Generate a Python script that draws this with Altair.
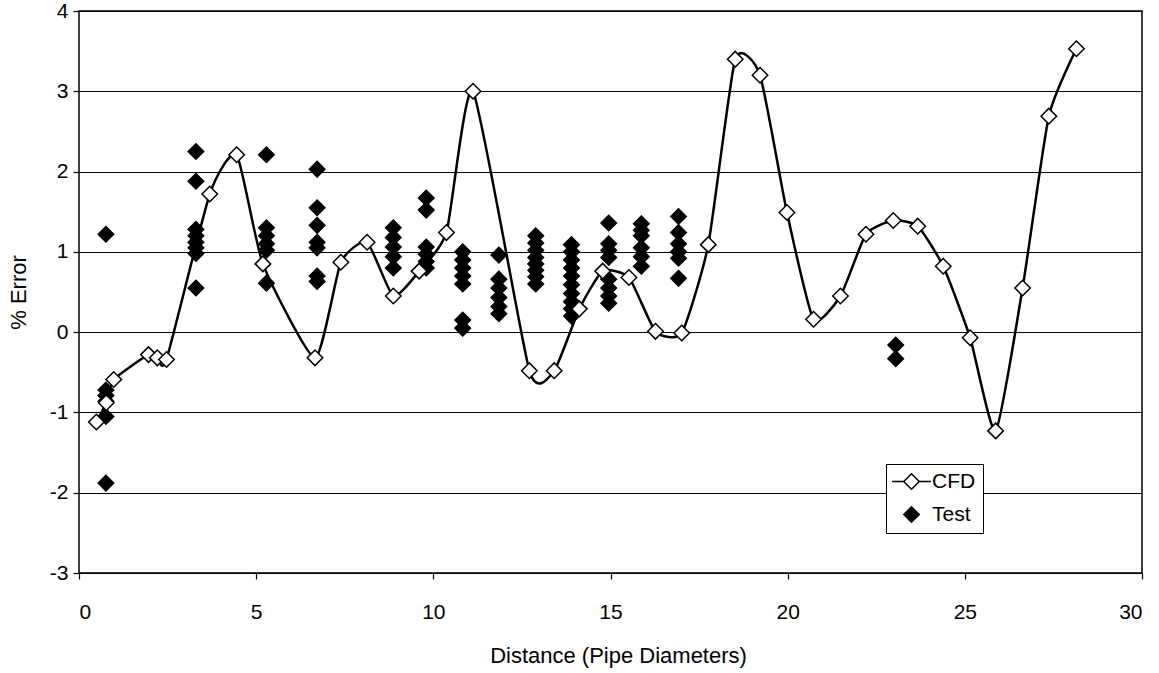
import altair as alt
import pandas as pd

# CFD prediction along the pipe (distance in pipe diameters, % error)
cfd_x = [0.49, 0.77, 0.98, 1.96, 2.21, 2.47, 3.69, 4.45, 5.19, 6.66, 7.39, 8.13,
         8.87, 9.60, 10.37, 11.12, 12.71, 13.41, 14.12, 14.78, 15.52, 16.27,
         17.01, 17.76, 18.52, 19.22, 19.98, 20.73, 21.49, 22.21, 22.98, 23.67,
         24.39, 25.15, 25.87, 26.63, 27.37, 28.15]
cfd_y = [-1.12, -0.88, -0.59, -0.28, -0.32, -0.34, 1.72, 2.21, 0.85, -0.32, 0.87, 1.12,
         0.45, 0.76, 1.24, 3.00, -0.48, -0.48, 0.29, 0.76, 0.68, 0.01,
         -0.01, 1.09, 3.40, 3.20, 1.49, 0.16, 0.45, 1.22, 1.39, 1.32,
         0.82, -0.07, -1.23, 0.55, 2.69, 3.53]

# Test measurements, grouped by measuring station
test_stations = [0.76, 3.30, 5.29, 6.72, 8.87, 9.80, 10.83, 11.85, 12.89, 13.90,
                 14.95, 15.87, 16.92, 23.05]
test_values = [
    [1.22, -0.72, -0.79, -0.86, -1.05, -1.88],
    [2.25, 1.88, 1.28, 1.20, 1.12, 1.05, 0.98, 0.55],
    [2.21, 1.30, 1.20, 1.10, 1.02, 0.61],
    [2.03, 1.55, 1.33, 1.12, 1.05, 0.70, 0.63],
    [1.30, 1.18, 1.06, 0.94, 0.80],
    [1.67, 1.52, 1.06, 0.97, 0.88, 0.80],
    [1.00, 0.90, 0.80, 0.70, 0.60, 0.15, 0.05],
    [0.96, 0.66, 0.55, 0.43, 0.32, 0.23],
    [1.20, 1.11, 1.02, 0.93, 0.85, 0.77, 0.69, 0.60],
    [1.09, 1.00, 0.90, 0.80, 0.70, 0.59, 0.48, 0.38, 0.29, 0.20],
    [1.36, 1.10, 1.02, 0.93, 0.66, 0.55, 0.45, 0.36],
    [1.35, 1.27, 1.20, 1.05, 0.94, 0.82],
    [1.44, 1.24, 1.10, 1.00, 0.92, 0.67],
    [-0.16, -0.33],
]

series_names = ["CFD", "Test"]
x_ticks = [0, 5, 10, 15, 20, 25, 30]
y_ticks = [-3, -2, -1, 0, 1, 2, 3, 4]

cfd = pd.DataFrame({"dist": cfd_x, "err": cfd_y, "series": "CFD"})
test = pd.DataFrame(
    [{"dist": s, "err": v, "series": "Test"}
     for s, vals in zip(test_stations, test_values) for v in vals]
)

# legend glyph for the CFD series: a short line through an open diamond
cfd_glyph = "M-2.5,0L-1,0M1,0L2.5,0M-1,0L0,-1L1,0L0,1Z"

# plain integers with an ASCII hyphen for negatives
int_label = "datum.value + ''"

x_enc = alt.X("dist:Q", scale=alt.Scale(domain=[0, 30], nice=False),
              axis=alt.Axis(values=x_ticks, grid=False, title="Distance (Pipe Diameters)",
                            labelExpr=int_label, labelPadding=22, titleX=539, titleY=82,
                            titleBaseline="middle", titleAlign="center"))
y_enc = alt.Y("err:Q", scale=alt.Scale(domain=[-3, 4], nice=False, zero=False),
              axis=alt.Axis(values=y_ticks, grid=True, title="% Error",
                            labelExpr=int_label, labelPadding=5, titleX=-61, titleY=281,
                            titleBaseline="middle", titleAlign="center", titleAngle=270))

legend = alt.Legend(title=None)

test_layer = alt.Chart(test).mark_point(
    filled=True, size=240, strokeWidth=1.5, opacity=1
).encode(
    x=x_enc, y=y_enc,
    shape=alt.Shape("series:N", scale=alt.Scale(domain=series_names, range=[cfd_glyph, "diamond"]), legend=legend),
    fill=alt.Fill("series:N", scale=alt.Scale(domain=series_names, range=["white", "black"]), legend=legend),
    stroke=alt.Stroke("series:N", scale=alt.Scale(domain=series_names, range=["black", "black"]), legend=legend),
)

cfd_line = alt.Chart(cfd).mark_line(
    interpolate="cardinal", tension=0.45, color="black", strokeWidth=2.5
).encode(x="dist:Q", y="err:Q")

cfd_points = alt.Chart(cfd).mark_point(
    shape="diamond", filled=True, fill="white", stroke="black",
    strokeWidth=1.5, size=240, opacity=1
).encode(x="dist:Q", y="err:Q")

chart = alt.layer(test_layer, cfd_line, cfd_points).properties(
    width=1063, height=562,
    autosize=alt.AutoSizeParams(type="none"),
    padding={"left": 79, "top": 11, "right": 17, "bottom": 100},
).configure(
    font="Liberation Sans", background="white"
).configure_view(
    stroke="black", strokeWidth=1.5
).configure_axis(
    domain=False, tickColor="black", tickSize=6, tickWidth=1.2,
    gridColor="black", gridWidth=1.2, gridOpacity=1,
    labelColor="black", labelFontSize=21, labelFont="Liberation Sans",
    titleColor="black", titleFontSize=22, titleFontWeight="normal",
    titleFont="Liberation Sans",
).configure_axisX(
    labelBaseline="top"
).configure_legend(
    orient="none", legendX=807, legendY=453,
    strokeColor="black", fillColor="white", padding=7,
    labelFontSize=21, labelColor="black", labelFont="Liberation Sans",
    symbolSize=240, symbolStrokeWidth=1.5, rowPadding=10, labelOffset=10,
    symbolOffset=8, cornerRadius=0,
)

chart.save("out.html", embed_options={"renderer": "svg", "actions": False})
